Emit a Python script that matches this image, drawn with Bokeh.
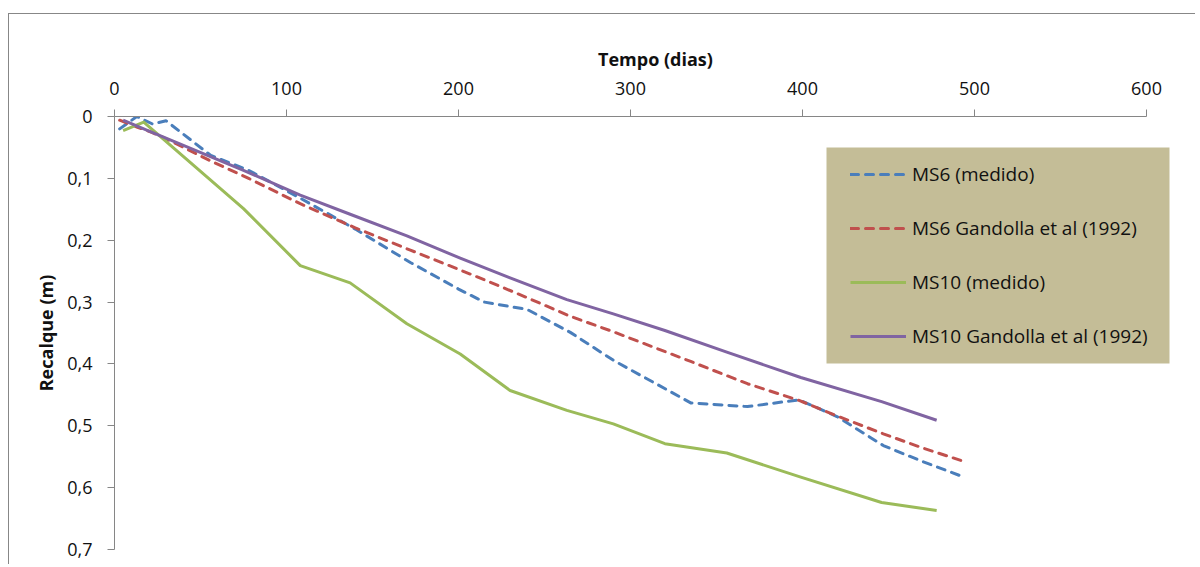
from bokeh.plotting import figure
from bokeh.models import (Range1d, FixedTicker, CustomJSTickFormatter, LinearAxis,
                          Legend, LegendItem, BoxAnnotation)
from bokeh.embed import file_html
from bokeh.resources import INLINE

# ---- data ----
x_ticks = [0, 100, 200, 300, 400, 500, 600]
y_ticks = [0, 0.1, 0.2, 0.3, 0.4, 0.5, 0.6, 0.7]

ms6_dias = [3, 13, 22, 30, 56, 78, 108, 140, 172, 200, 215, 240, 265, 290,
            335, 368, 398, 420, 447, 470, 492]
ms6_medido = [0.020, 0.000, 0.012, 0.007, 0.063, 0.087, 0.132, 0.182, 0.236,
              0.279, 0.300, 0.312, 0.349, 0.394, 0.463, 0.469, 0.458, 0.485,
              0.532, 0.558, 0.581]
ms6_gandolla = [0.006, 0.017, 0.026, 0.036, 0.072, 0.100, 0.141, 0.180, 0.216,
                0.247, 0.264, 0.293, 0.323, 0.348, 0.396, 0.432, 0.459, 0.484,
                0.513, 0.536, 0.556]

ms10_dias = [5, 17, 75, 108, 137, 170, 201, 230, 263, 290, 320, 356, 399, 446, 478]
ms10_medido = [0.023, 0.009, 0.149, 0.241, 0.269, 0.335, 0.384, 0.443, 0.475,
               0.497, 0.529, 0.544, 0.583, 0.624, 0.637]
ms10_gandolla = [0.006, 0.020, 0.087, 0.127, 0.158, 0.193, 0.229, 0.261, 0.296,
                 0.319, 0.346, 0.381, 0.422, 0.461, 0.491]

labels = ["MS6 (medido)", "MS6 Gandolla et al (1992)", "MS10 (medido)",
          "MS10 Gandolla et al (1992)"]
colors = ["#4A7EBB", "#C0504D", "#9BBB59", "#8064A2"]

FONT = "Open Sans"
AXIS_COLOR = "#868686"

# frame spans 1.72 px per day; axis line itself is bounded to 0..600
p = figure(width=1187, height=551, output_backend="svg", toolbar_location=None,
           x_range=Range1d(0, 629.07), y_range=Range1d(0.7, 0),
           x_axis_location=None, y_axis_location=None,
           min_border_left=105, min_border_right=0, min_border_top=102,
           min_border_bottom=16)
p.styles = {"margin-top": "13px", "margin-left": "8px",
            "border-top": "1px solid #878787",
            "border-left": "1px solid #878787"}
p.outline_line_color = None
p.xgrid.visible = False
p.ygrid.visible = False

xaxis = LinearAxis(axis_label="Tempo (dias)", ticker=FixedTicker(ticks=x_ticks),
                   bounds=(0, 600))
yaxis = LinearAxis(axis_label="Recalque (m)", ticker=FixedTicker(ticks=y_ticks),
                   formatter=CustomJSTickFormatter(code="""
                       if (Math.abs(tick) < 1e-9) { return '0'; }
                       return tick.toFixed(1).replace('.', ',');
                   """))
for ax in (xaxis, yaxis):
    ax.axis_line_color = AXIS_COLOR
    ax.major_tick_line_color = AXIS_COLOR
    ax.minor_tick_line_color = None
    ax.major_tick_in = 0
    ax.major_tick_out = 7
    ax.major_label_text_font = FONT
    ax.major_label_text_font_size = "18px"
    ax.major_label_text_color = "#111111"
    ax.axis_label_text_font = FONT
    ax.axis_label_text_font_size = "18px"
    ax.axis_label_text_font_style = "bold"
    ax.axis_label_text_color = "#111111"
xaxis.major_label_standoff = 15
xaxis.axis_label_standoff = 8
yaxis.major_label_standoff = 15
yaxis.axis_label_standoff = 6
p.add_layout(xaxis, "above")
p.add_layout(yaxis, "left")

# legend background (Excel tan box)
p.add_layout(BoxAnnotation(left=712, right=1055, bottom=186, top=402,
                           left_units="screen", right_units="screen",
                           bottom_units="screen", top_units="screen",
                           fill_color="#C4BD97", fill_alpha=1.0,
                           line_color=None, level="underlay"))

r1 = p.line(ms6_dias, ms6_medido, line_color=colors[0], line_width=3,
            line_dash="8 7", line_cap="round", line_join="round")
r2 = p.line(ms6_dias, ms6_gandolla, line_color=colors[1], line_width=3,
            line_dash="8 7", line_cap="round", line_join="round")
r3 = p.line(ms10_dias, ms10_medido, line_color=colors[2], line_width=3,
            line_join="round")
r4 = p.line(ms10_dias, ms10_gandolla, line_color=colors[3], line_width=3,
            line_join="round")

legend = Legend(items=[LegendItem(label=l, renderers=[r]) for l, r in
                       zip(labels, [r1, r2, r3, r4])],
                location=(736, 199), orientation="vertical",
                background_fill_alpha=0, border_line_color=None,
                padding=10, spacing=26, glyph_width=56, glyph_height=28,
                label_standoff=6, label_text_font=FONT,
                label_text_font_size="19px", label_text_color="#111111",
                margin=0)
p.add_layout(legend, "center")

open("out.html", "w").write(file_html(p, INLINE))
